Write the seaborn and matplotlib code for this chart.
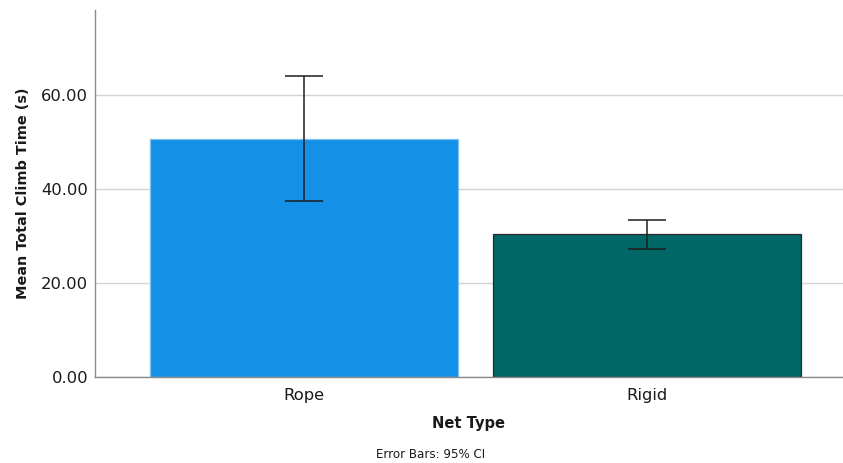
import matplotlib
matplotlib.use("Agg")
import matplotlib.pyplot as plt
import seaborn as sns
import pandas as pd
import numpy as np

# Mean total climb time per net type with 95% confidence interval bounds
net_types = ["Rope", "Rigid"]
mean_times = [50.67, 30.4]
ci_lower = [37.4, 27.2]
ci_upper = [63.9, 33.5]
bar_colors = ["#1490E6", "#006666"]
edge_colors = ["#7cc0f0", "#2a2a2a"]

df = pd.DataFrame({"Net Type": net_types, "Mean": mean_times})

sns.set_style("white")
plt.rcParams["font.family"] = ["DejaVu Sans"]

fig = plt.figure(figsize=(8.43, 4.63), dpi=100)
ax = fig.add_axes([95 / 843, (463 - 377.3) / 463, 1 - 95 / 843, (377.3 - 10) / 463])

sns.barplot(data=df, x="Net Type", y="Mean", hue="Net Type", palette=bar_colors,
            saturation=1, width=0.898, errorbar=None, legend=False, ax=ax, zorder=2)

for patch, ec in zip(ax.patches, edge_colors):
    patch.set_edgecolor(ec)
    patch.set_linewidth(0.9)

means = np.array(mean_times)
yerr = np.vstack([means - np.array(ci_lower), np.array(ci_upper) - means])
ax.errorbar(np.arange(len(net_types)), means, yerr=yerr, fmt="none",
            ecolor="#1e1e1e", elinewidth=1.1, capsize=13.7, capthick=1.1, zorder=3)

ax.set_ylim(0, 78)
ax.set_xlim(-0.609, 1.571)
ax.set_yticks([0, 20, 40, 60])
ax.set_yticklabels([f"{v:.2f}" for v in [0, 20, 40, 60]])
ax.yaxis.grid(True, color="#d4d4d4", linewidth=1.0, zorder=0)
ax.set_axisbelow(True)

for side in ["top", "right"]:
    ax.spines[side].set_visible(False)
for side in ["left", "bottom"]:
    ax.spines[side].set_color("#8a8a8a")
    ax.spines[side].set_linewidth(1.0)

ax.tick_params(axis="both", length=0, labelsize=11.8, colors="#1a1a1a", pad=5)
ax.tick_params(axis="x", pad=8)

ax.set_ylabel("Mean Total Climb Time (s)", fontsize=10.4, fontweight="bold",
              color="#1a1a1a", labelpad=8)
ax.set_xlabel("Net Type", fontsize=10.5, fontweight="bold", color="#1a1a1a", labelpad=9)

fig.text(431 / 843, 1 - 455 / 463, "Error Bars: 95% CI", fontsize=8.6,
         color="#1a1a1a", ha="center", va="center")

fig.savefig("out.png", dpi=100)
